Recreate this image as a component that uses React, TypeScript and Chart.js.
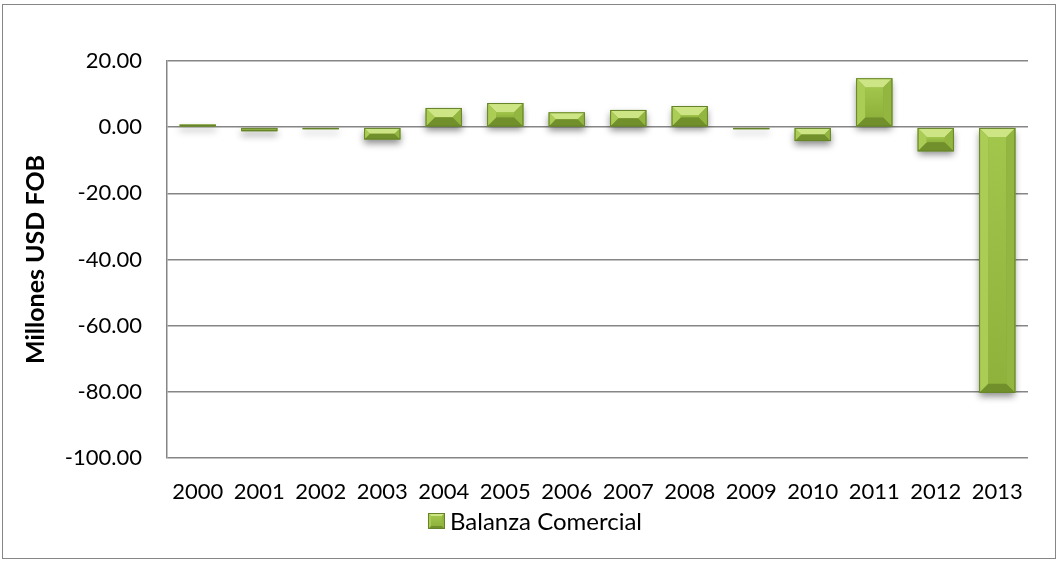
import { useEffect, useRef } from "react";
import { Chart, registerables } from "chart.js";

Chart.register(...registerables);

const years = ["2000", "2001", "2002", "2003", "2004", "2005", "2006", "2007", "2008", "2009", "2010", "2011", "2012", "2013"];
const balanza = [0.8, -1.2, -0.6, -3.7, 5.8, 7.3, 4.5, 5.2, 6.4, -0.6, -4.2, 14.8, -7.3, -80.3];
const seriesLabel = "Balanza Comercial";
const yTitle = "Millones USD FOB";
const yMin = -100;
const yMax = 20;
const yStep = 20;

const FONT = "Lato, 'Open Sans', sans-serif";

function poly(ctx: CanvasRenderingContext2D, pts: number[][], color: string) {
  ctx.beginPath();
  ctx.moveTo(pts[0][0], pts[0][1]);
  for (let i = 1; i < pts.length; i++) ctx.lineTo(pts[i][0], pts[i][1]);
  ctx.closePath();
  ctx.fillStyle = color;
  ctx.fill();
}

function drawBevel(ctx: CanvasRenderingContext2D, l: number, t: number, w: number, h: number, dMax: number, shadow: boolean) {
  if (h < 0.5) h = 1;
  const r = l + w;
  const b = t + h;
  const d = Math.min(dMax, h / 2, w / 2);
  ctx.save();
  if (shadow) {
    ctx.shadowColor = "rgba(0,0,0,0.45)";
    ctx.shadowBlur = 7;
    ctx.shadowOffsetY = 4;
  }
  ctx.fillStyle = "#86a83a";
  ctx.fillRect(l, t, w, h);
  ctx.restore();
  ctx.save();
  const g = ctx.createLinearGradient(0, t + d, 0, b - d);
  g.addColorStop(0, "#a2c54c");
  g.addColorStop(1, "#8fb23c");
  ctx.fillStyle = g;
  ctx.fillRect(l + d, t + d, w - 2 * d, h - 2 * d);
  poly(ctx, [[l, t], [r, t], [r - d, t + d], [l + d, t + d]], "#cde584");
  poly(ctx, [[l, b], [r, b], [r - d, b - d], [l + d, b - d]], "#71902b");
  poly(ctx, [[l, t], [l + d, t + d], [l + d, b - d], [l, b]], "#accd55");
  poly(ctx, [[r, t], [r - d, t + d], [r - d, b - d], [r, b]], "#93b640");
  ctx.strokeStyle = "#65842a";
  ctx.lineWidth = 1;
  ctx.strokeRect(l + 0.5, t + 0.5, Math.max(0, w - 1), Math.max(0, h - 1));
  ctx.restore();
}

const framePlugin = {
  id: "frame",
  beforeDraw(chart: any) {
    const ctx = chart.ctx as CanvasRenderingContext2D;
    ctx.save();
    ctx.fillStyle = "#ffffff";
    ctx.fillRect(0, 0, chart.width, chart.height);
    ctx.strokeStyle = "#868686";
    ctx.lineWidth = 1;
    ctx.strokeRect(2.5, 4.5, chart.width - 5, chart.height - 7);
    ctx.restore();
  },
};

const bevelPlugin = {
  id: "bevel",
  afterDatasetsDraw(chart: any) {
    const ctx = chart.ctx as CanvasRenderingContext2D;
    const meta = chart.getDatasetMeta(0);
    meta.data.forEach((el: any) => {
      const p = el.getProps(["x", "y", "base", "width"], true);
      const top = Math.min(p.y, p.base);
      const h = Math.abs(p.base - p.y);
      drawBevel(ctx, p.x - p.width / 2, top, p.width, h, 9, true);
    });
  },
  afterDraw(chart: any) {
    const ctx = chart.ctx as CanvasRenderingContext2D;
    ctx.save();
    ctx.font = `24px ${FONT}`;
    const tw = ctx.measureText(seriesLabel).width;
    const box = 17;
    const gap = 5;
    const total = box + gap + tw;
    const cx = chart.width / 2 + 6;
    const sx = cx - total / 2;
    const cy = 521;
    drawBevel(ctx, sx, cy - 8, box, 16, 3, false);
    ctx.fillStyle = "#000000";
    ctx.textBaseline = "middle";
    ctx.textAlign = "left";
    ctx.fillText(seriesLabel, sx + box + gap, cy + 1);
    ctx.restore();
  },
};

export default function App() {
  const ref = useRef<HTMLCanvasElement | null>(null);
  useEffect(() => {
    if (!ref.current) return;
    const chart = new Chart(ref.current, {
      type: "bar",
      data: {
        labels: years,
        datasets: [
          {
            label: seriesLabel,
            data: balanza,
            backgroundColor: "rgba(0,0,0,0)",
            borderWidth: 0,
            barPercentage: 0.59,
            categoryPercentage: 1,
          },
        ],
      },
      options: {
        animation: false,
        responsive: false,
        devicePixelRatio: 1,
        layout: { padding: { left: 0, right: 30, top: 61, bottom: 0 } },
        plugins: {
          legend: { display: false },
          tooltip: { enabled: false },
        },
        scales: {
          x: {
            grid: { display: false, drawTicks: false },
            border: { display: false },
            ticks: {
              color: "#000000",
              font: { family: FONT, size: 22 },
              padding: 21,
              maxRotation: 0,
              autoSkip: false,
            },
            afterFit: (s: any) => {
              s.height = 103;
            },
          },
          y: {
            min: yMin,
            max: yMax,
            grid: { color: "#868686", lineWidth: 1.5, drawTicks: false },
            border: { display: true, color: "#868686", width: 1.5 },
            ticks: {
              stepSize: yStep,
              color: "#000000",
              font: { family: FONT, size: 22 },
              padding: 25,
              callback: (v: any) => Number(v).toFixed(2),
            },
            title: {
              display: true,
              text: yTitle,
              color: "#000000",
              font: { family: FONT, size: 25, weight: "bold" },
              padding: { top: 21, bottom: 0 },
            },
            afterFit: (s: any) => {
              s.width = 167;
            },
          },
        },
      },
      plugins: [framePlugin, bevelPlugin],
    });
    return () => chart.destroy();
  }, []);
  return (
    <div style={{ position: "absolute", left: 0, top: 0, width: 1058, height: 561 }}>
      <canvas ref={ref} width={1058} height={561} style={{ width: 1058, height: 561, display: "block" }} />
    </div>
  );
}
